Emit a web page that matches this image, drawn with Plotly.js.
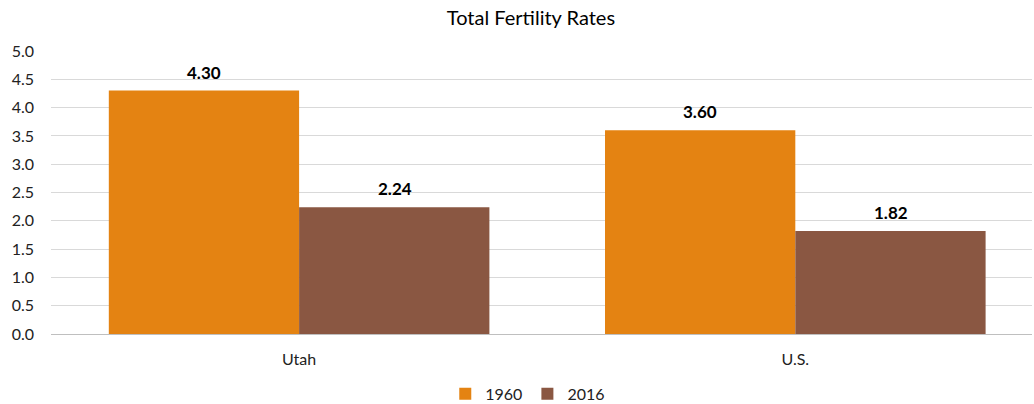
<!DOCTYPE html>
<html><head><meta charset="utf-8">
<script src="https://cdn.plot.ly/plotly-3.0.1.min.js"></script>
<style>body{margin:0;background:#fff}#chart{width:1034px;height:404px}</style>
</head><body><div id="chart"></div>
<script>
var categories = ["Utah", "U.S."];
var series1960 = [4.30, 3.60];
var series2016 = [2.24, 1.82];
var seriesNames = ["1960", "2016"];
var yTicks = [0, 0.5, 1, 1.5, 2, 2.5, 3, 3.5, 4, 4.5, 5];

var font = "Lato, 'Open Sans', sans-serif";
var colors = ["#E48312", "#8A5742"];
var allSeries = [series1960, series2016];
var traces = allSeries.map(function(s, i){
  return {type:"bar", name:seriesNames[i], x:categories, y:s, marker:{color:colors[i]}, hoverinfo:"none"};
});
var annotations = [];
allSeries.forEach(function(s, i){
  s.forEach(function(v, j){
    annotations.push({x:categories[j], y:v, xref:"x", yref:"y", text:"<b>"+v.toFixed(2)+"</b>",
      showarrow:false, xshift:(i===0?-95.5:95.5), yanchor:"bottom", yshift:6,
      font:{family:font, size:17, color:"#000"}});
  });
});
var layout = {
  width:1034, height:404,
  margin:{l:51, r:2, t:51, b:70},
  paper_bgcolor:"#fff", plot_bgcolor:"#fff",
  font:{family:font, size:16, color:"#222"},
  title:{text:"Total Fertility Rates", x:0.5135, xanchor:"center", y:0.955, yanchor:"middle",
         font:{family:font, size:20, color:"#000"}},
  barmode:"group", bargap:0.233, bargroupgap:0,
  xaxis:{type:"category", range:[-0.5, 1.477], showgrid:false, zeroline:false,
         showline:false, ticks:"", ticklabelstandoff:14, tickfont:{family:font, size:16, color:"#222"}},
  yaxis:{range:[0,5], tickvals:yTicks, tickformat:".1f", showgrid:true, gridcolor:"#d9d9d9",
         zeroline:true, zerolinecolor:"#bfbfbf", zerolinewidth:1, ticks:"", ticklabelstandoff:16,
         tickfont:{family:font, size:16, color:"#222"}},
  annotations:annotations,
  showlegend:true,
  legend:{orientation:"h", x:0.486, xanchor:"center", xref:"paper", yref:"container", y:0.025, yanchor:"middle",
          font:{family:font, size:16, color:"#222"}, itemwidth:30}
};
Plotly.newPlot("chart", traces, layout, {displayModeBar:false});
</script></body></html>
